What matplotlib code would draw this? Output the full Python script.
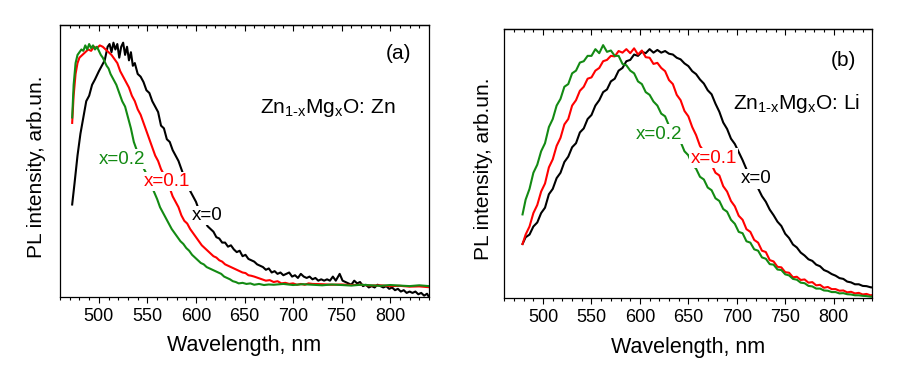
import matplotlib
matplotlib.use("Agg")
import matplotlib.pyplot as plt
from matplotlib.ticker import MultipleLocator

plt.rcParams['font.family'] = ['Liberation Sans', 'DejaVu Sans']
plt.rcParams['mathtext.fontset'] = 'custom'
plt.rcParams['mathtext.rm'] = 'Liberation Sans'
plt.rcParams['mathtext.it'] = 'Liberation Sans'

# ---------------- Panel (a): Zn1-xMgxO:Zn ----------------
a_x0_wl = [472.5, 475, 478, 481, 484, 487, 490, 493, 496, 500, 503, 506, 509, 511, 513, 515, 517, 519,
           521, 523, 525, 527, 529, 531, 533, 535, 537, 540, 543, 546, 549, 552, 555, 558, 561, 564,
           567, 570, 573, 576, 579, 582, 585, 588, 591, 594, 597, 600, 603, 606, 609, 612, 615, 618,
           621, 624, 627, 630, 633, 636, 639, 642, 645, 648, 651, 654, 657, 660, 663, 666, 669, 672,
           675, 678, 681, 684, 687, 690, 693, 696, 699, 702, 705, 708, 711, 714, 717, 720, 723, 726,
           729, 732, 735, 738, 741, 744, 748, 751, 754, 757, 760, 763, 766, 769, 772, 775, 778, 781,
           784, 787, 790, 793, 796, 799, 802, 805, 808, 811, 814, 817, 820, 823, 826, 829, 832, 835,
           838, 840]
a_x0_val = [0.34, 0.42, 0.52, 0.60, 0.66, 0.72, 0.74, 0.78, 0.80, 0.83, 0.85, 0.87, 0.92, 0.93, 0.90, 0.935, 0.91, 0.93,
            0.88, 0.92, 0.935, 0.89, 0.92, 0.87, 0.90, 0.85, 0.86, 0.82, 0.81, 0.79, 0.76, 0.75, 0.72, 0.70, 0.68, 0.63,
            0.62, 0.58, 0.57, 0.54, 0.52, 0.50, 0.47, 0.44, 0.42, 0.39, 0.37, 0.35, 0.32, 0.30, 0.28, 0.26, 0.25, 0.24,
            0.22, 0.215, 0.20, 0.20, 0.185, 0.19, 0.175, 0.165, 0.17, 0.15, 0.155, 0.14, 0.135, 0.13, 0.12, 0.115, 0.11, 0.10,
            0.105, 0.09, 0.095, 0.085, 0.09, 0.08, 0.085, 0.09, 0.075, 0.08, 0.07, 0.085, 0.075, 0.07, 0.075, 0.065, 0.07, 0.06,
            0.065, 0.06, 0.065, 0.06, 0.075, 0.06, 0.085, 0.06, 0.055, 0.05, 0.045, 0.06, 0.05, 0.055, 0.04, 0.045, 0.035, 0.04,
            0.035, 0.045, 0.04, 0.035, 0.04, 0.03, 0.035, 0.025, 0.03, 0.02, 0.025, 0.015, 0.02, 0.015, 0.02, 0.01, 0.015, 0.005,
            0.012, 0.0]

a_x01_wl = [472.5, 474, 476, 478, 480, 483, 486, 489, 492, 495, 498, 501, 504, 507, 510, 513, 516, 519,
            522, 525, 528, 531, 534, 537, 540, 543, 546, 549, 552, 555, 558, 561, 564, 567, 570, 573,
            576, 579, 582, 585, 588, 591, 594, 597, 600, 603, 606, 609, 612, 615, 618, 621, 624, 627,
            630, 633, 636, 639, 642, 645, 648, 651, 654, 657, 660, 664, 668, 672, 676, 680, 684, 688,
            692, 696, 700, 704, 708, 712, 716, 720, 730, 740, 750, 760, 770, 780, 790, 800, 810, 820,
            830, 840]
a_x01_val = [0.64, 0.74, 0.82, 0.86, 0.88, 0.89, 0.90, 0.91, 0.905, 0.92, 0.915, 0.925, 0.92, 0.91, 0.90, 0.89, 0.875, 0.86,
             0.83, 0.81, 0.79, 0.77, 0.74, 0.72, 0.69, 0.67, 0.64, 0.61, 0.58, 0.55, 0.52, 0.50, 0.47, 0.45, 0.42, 0.40,
             0.37, 0.35, 0.33, 0.30, 0.28, 0.27, 0.25, 0.235, 0.22, 0.205, 0.19, 0.18, 0.17, 0.16, 0.15, 0.145, 0.135, 0.13,
             0.12, 0.115, 0.11, 0.105, 0.10, 0.095, 0.09, 0.088, 0.08, 0.078, 0.075, 0.07, 0.065, 0.06, 0.062, 0.055, 0.058, 0.05,
             0.052, 0.048, 0.05, 0.045, 0.048, 0.045, 0.05, 0.048, 0.047, 0.045, 0.046, 0.044, 0.045, 0.042, 0.043, 0.04, 0.041, 0.038,
             0.039, 0.036]

a_x02_wl = [472.5, 474, 476, 478, 480, 482, 484, 486, 488, 490, 492, 494, 496, 498, 500, 502, 504, 506,
            508, 510, 512, 515, 518, 521, 524, 527, 530, 533, 536, 539, 542, 545, 548, 551, 554, 557,
            560, 563, 566, 569, 572, 575, 578, 581, 584, 587, 590, 593, 596, 599, 602, 605, 608, 611,
            614, 617, 620, 623, 626, 629, 632, 635, 638, 641, 644, 648, 652, 656, 660, 665, 670, 675,
            680, 690, 700, 710, 720, 730, 740, 750, 760, 770, 780, 790, 800, 810, 820, 830, 840]
a_x02_val = [0.66, 0.78, 0.86, 0.89, 0.90, 0.91, 0.905, 0.925, 0.91, 0.93, 0.915, 0.925, 0.91, 0.92, 0.905, 0.89, 0.88, 0.865,
             0.85, 0.84, 0.82, 0.80, 0.78, 0.75, 0.72, 0.70, 0.66, 0.62, 0.57, 0.54, 0.51, 0.48, 0.46, 0.43, 0.41, 0.385,
             0.36, 0.33, 0.31, 0.29, 0.27, 0.25, 0.235, 0.22, 0.205, 0.195, 0.18, 0.17, 0.155, 0.145, 0.135, 0.125, 0.12, 0.11,
             0.105, 0.10, 0.095, 0.09, 0.085, 0.075, 0.07, 0.065, 0.058, 0.055, 0.05, 0.052, 0.048, 0.05, 0.045, 0.048, 0.044, 0.046,
             0.045, 0.048, 0.044, 0.047, 0.045, 0.043, 0.046, 0.044, 0.042, 0.045, 0.043, 0.041, 0.044, 0.042, 0.04, 0.043, 0.04]

# ---------------- Panel (b): Zn1-xMgxO:Li ----------------
b_wl = [478.8, 482, 486, 490, 494, 498, 502, 506, 510, 514, 518, 522, 526, 530, 534, 538, 542, 546,
        550, 554, 558, 562, 566, 570, 574, 578, 582, 586, 590, 594, 598, 602, 606, 610, 614, 618,
        622, 626, 630, 634, 638, 642, 646, 650, 654, 658, 662, 666, 670, 674, 678, 682, 686, 690,
        694, 698, 702, 706, 710, 714, 718, 722, 726, 730, 734, 738, 742, 746, 750, 754, 758, 762,
        766, 770, 774, 778, 782, 786, 790, 794, 798, 802, 806, 810, 814, 818, 822, 826, 830, 834,
        838, 840]
b_x0_val = [0.20, 0.225, 0.235, 0.265, 0.28, 0.315, 0.335, 0.385, 0.405, 0.445, 0.465, 0.505, 0.525, 0.56, 0.575, 0.615, 0.63, 0.665,
            0.68, 0.715, 0.735, 0.765, 0.775, 0.805, 0.815, 0.845, 0.855, 0.88, 0.885, 0.905, 0.90, 0.915, 0.91, 0.925, 0.912, 0.922,
            0.912, 0.918, 0.908, 0.905, 0.893, 0.887, 0.872, 0.862, 0.843, 0.832, 0.812, 0.797, 0.772, 0.757, 0.722, 0.692, 0.652, 0.628,
            0.592, 0.572, 0.542, 0.512, 0.478, 0.457, 0.428, 0.407, 0.378, 0.357, 0.328, 0.307, 0.283, 0.267, 0.238, 0.222, 0.198, 0.187,
            0.168, 0.157, 0.143, 0.137, 0.123, 0.117, 0.103, 0.097, 0.088, 0.082, 0.073, 0.07, 0.06, 0.057, 0.05, 0.05, 0.044, 0.043,
            0.039, 0.038]
b_x01_val = [0.20, 0.235, 0.265, 0.315, 0.345, 0.395, 0.425, 0.485, 0.515, 0.565, 0.595, 0.645, 0.665, 0.715, 0.735, 0.77, 0.785, 0.815,
             0.82, 0.845, 0.855, 0.88, 0.885, 0.90, 0.898, 0.918, 0.912, 0.925, 0.91, 0.928, 0.905, 0.92, 0.895, 0.893, 0.87, 0.874,
             0.855, 0.843, 0.81, 0.795, 0.755, 0.735, 0.695, 0.675, 0.635, 0.605, 0.565, 0.545, 0.505, 0.495, 0.465, 0.455, 0.415, 0.395,
             0.36, 0.34, 0.305, 0.29, 0.255, 0.245, 0.215, 0.205, 0.175, 0.17, 0.14, 0.135, 0.115, 0.113, 0.095, 0.093, 0.076, 0.078,
             0.066, 0.068, 0.056, 0.058, 0.046, 0.048, 0.037, 0.04, 0.032, 0.032, 0.026, 0.027, 0.02, 0.022, 0.016, 0.018, 0.012, 0.014,
             0.009, 0.01]
b_x02_val = [0.31, 0.365, 0.405, 0.465, 0.495, 0.545, 0.575, 0.635, 0.665, 0.715, 0.74, 0.785, 0.795, 0.835, 0.845, 0.875, 0.88, 0.9,
             0.9, 0.925, 0.91, 0.94, 0.915, 0.92, 0.9, 0.9, 0.87, 0.865, 0.845, 0.835, 0.805, 0.795, 0.765, 0.755, 0.73, 0.715,
             0.685, 0.675, 0.64, 0.625, 0.595, 0.58, 0.545, 0.53, 0.495, 0.48, 0.45, 0.44, 0.41, 0.4, 0.37, 0.36, 0.33, 0.32,
             0.29, 0.275, 0.245, 0.24, 0.21, 0.205, 0.18, 0.175, 0.15, 0.145, 0.125, 0.123, 0.105, 0.103, 0.087, 0.083, 0.07, 0.067,
             0.056, 0.054, 0.044, 0.042, 0.034, 0.034, 0.027, 0.026, 0.021, 0.021, 0.016, 0.017, 0.013, 0.012, 0.009, 0.009, 0.007, 0.006,
             0.004, 0.004]

series_labels = ["x=0", "x=0.1", "x=0.2"]
colors = ["#000000", "#ff0000", "#138a13"]

fig = plt.figure(figsize=(9.11, 3.81), dpi=100)
ax_a = fig.add_axes([0.0659, 0.2205, 0.405, 0.7139])
ax_b = fig.add_axes([0.5536, 0.2186, 0.404, 0.7053])

lw = 1.5
ax_a.plot(a_x0_wl, a_x0_val, color=colors[0], lw=lw)
ax_a.plot(a_x01_wl, a_x01_val, color=colors[1], lw=lw)
ax_a.plot(a_x02_wl, a_x02_val, color=colors[2], lw=lw)

ax_b.plot(b_wl, b_x0_val, color=colors[0], lw=lw)
ax_b.plot(b_wl, b_x01_val, color=colors[1], lw=lw)
ax_b.plot(b_wl, b_x02_val, color=colors[2], lw=lw)

lab_fs = 13.5
ann_fs = 15
bb = dict(facecolor='white', edgecolor='none', pad=1.0)
sub_a = r"Zn$_{\mathregular{1\text{-}x}}$Mg$_{\mathregular{x}}$O: Zn"
sub_b = r"Zn$_{\mathregular{1\text{-}x}}$Mg$_{\mathregular{x}}$O: Li"

# labels panel (a)
ax_a.text(524, 0.507, series_labels[2], color=colors[2], fontsize=lab_fs, ha='center', va='center', bbox=bb)
ax_a.text(569.7, 0.424, series_labels[1], color=colors[1], fontsize=lab_fs, ha='center', va='center', bbox=bb)
ax_a.text(611.7, 0.30, series_labels[0], color=colors[0], fontsize=lab_fs, ha='center', va='center', bbox=bb)
ax_a.text(809, 0.897, "(a)", fontsize=ann_fs, ha='center', va='center')
ax_a.text(666, 0.695, sub_a, fontsize=ann_fs, ha='left', va='center')

# labels panel (b)
ax_b.text(619.6, 0.609, series_labels[2], color=colors[2], fontsize=lab_fs, ha='center', va='center', bbox=bb)
ax_b.text(676, 0.519, series_labels[1], color=colors[1], fontsize=lab_fs, ha='center', va='center', bbox=bb)
ax_b.text(720, 0.442, series_labels[0], color=colors[0], fontsize=lab_fs, ha='center', va='center', bbox=bb)
ax_b.text(809.7, 0.882, "(b)", fontsize=ann_fs, ha='center', va='center')
ax_b.text(696, 0.723, sub_b, fontsize=ann_fs, ha='left', va='center')

for ax, ylab_x, xlab_y in [(ax_a, -0.038, -0.14), (ax_b, -0.031, -0.146)]:
    ax.set_xlim(460, 840)
    ax.set_ylim(0, 1.0)
    ax.xaxis.set_major_locator(MultipleLocator(50))
    ax.xaxis.set_minor_locator(MultipleLocator(10))
    ax.set_yticks([])
    ax.tick_params(axis='x', which='both', direction='out', bottom=True, top=False, labelsize=13, pad=4)
    ax.tick_params(axis='x', which='major', length=4, width=0.8)
    ax.tick_params(axis='x', which='minor', length=2.2, width=0.8)
    sec = ax.secondary_xaxis('top')
    sec.xaxis.set_major_locator(MultipleLocator(50))
    sec.xaxis.set_minor_locator(MultipleLocator(10))
    sec.tick_params(axis='x', which='both', direction='in', labeltop=False)
    sec.tick_params(axis='x', which='major', length=4, width=0.8)
    sec.tick_params(axis='x', which='minor', length=2.2, width=0.8)
    sec.spines['top'].set_linewidth(0.9)
    for s in ax.spines.values():
        s.set_linewidth(0.9)
    ax.set_xlabel("Wavelength, nm", fontsize=15.5)
    ax.set_ylabel("PL intensity, arb.un.", fontsize=15)
    ax.xaxis.set_label_coords(0.5, xlab_y)
    ax.yaxis.set_label_coords(ylab_x, 0.48)

fig.savefig("out.png", dpi=100)
